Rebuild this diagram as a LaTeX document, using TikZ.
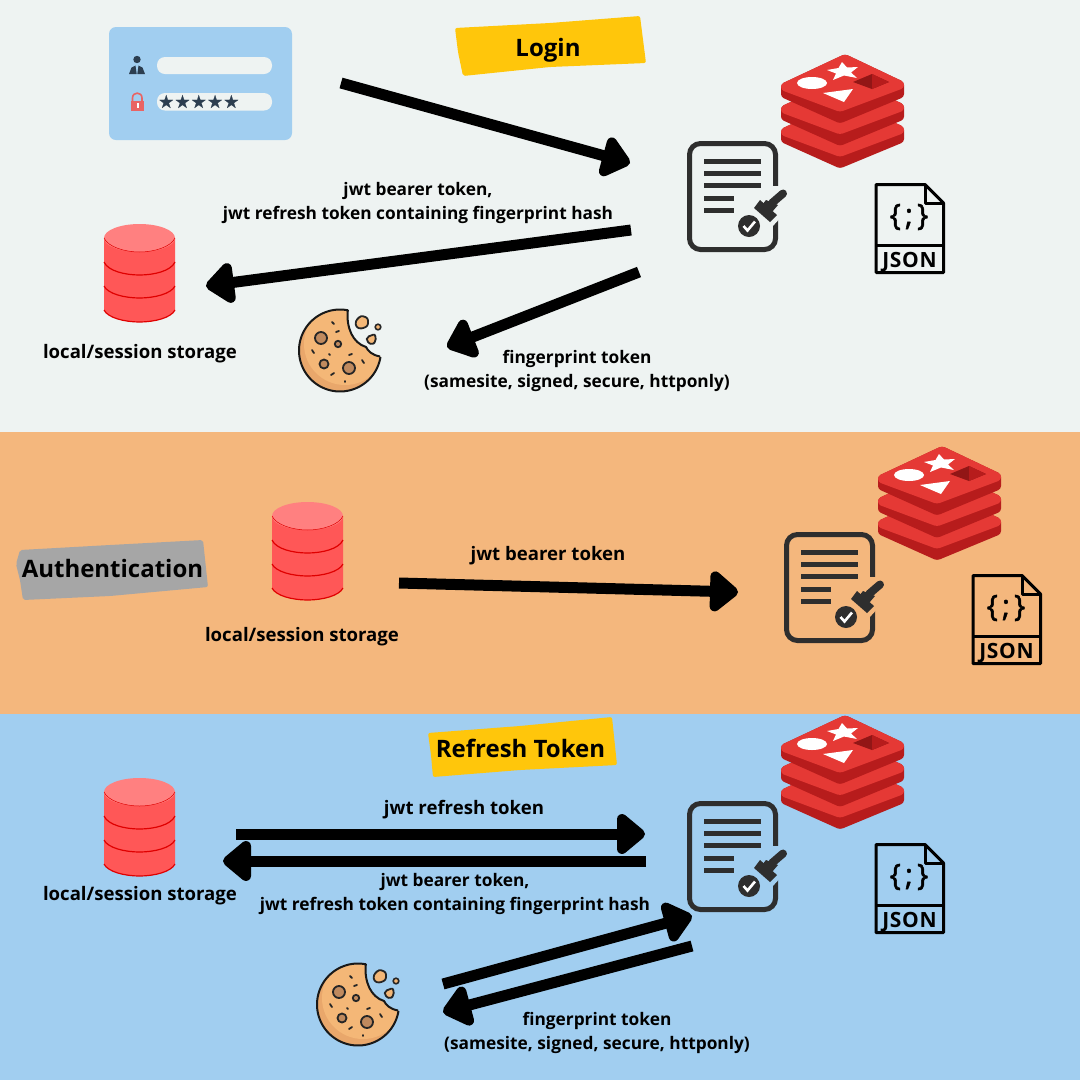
\documentclass[tikz,border=0pt]{standalone}
\usepackage{fontspec}
\setmainfont{Open Sans}
\newfontfamily\symfont[FakeBold=1]{DejaVu Sans}
\newfontfamily\jsonfont[FakeBold=1.6]{Open Sans}
\usetikzlibrary{calc}
\definecolor{bgtop}{HTML}{EEF3F2}
\definecolor{bgmid}{HTML}{F4B77D}
\definecolor{bgbot}{HTML}{A1CEF0}
\definecolor{redl}{HTML}{E53935}
\definecolor{redd}{HTML}{B71C1C}
\definecolor{dbside}{HTML}{FF5757}
\definecolor{dbtop}{HTML}{FF8080}
\definecolor{dbline}{HTML}{E00000}
\definecolor{docc}{HTML}{2E2E2E}
\definecolor{cookiel}{HTML}{F4B777}
\definecolor{cookied}{HTML}{E9A76B}
\definecolor{chip}{HTML}{C08A5E}
\definecolor{navy}{HTML}{2C3E50}
\definecolor{lockc}{HTML}{E96464}
\definecolor{yellowb}{HTML}{FFC60B}
\definecolor{grayb}{HTML}{A6A6A6}
\tikzset{
  shaft/.style={line width=11pt},
  arrowhead/.style={line width=10pt,line join=round,fill=black,draw=black},
  lbl/.style={font=\fontsize{17.3}{24}\selectfont\bfseries,align=center,inner sep=0pt,text=black},
  lblb/.style={font=\fontsize{18.6}{24}\selectfont\bfseries,align=center,inner sep=0pt,text=black},
  ttl/.style={font=\fontsize{24}{28}\selectfont\bfseries,inner sep=0pt,text=black},
  pics/redislayer/.style={code={
    \fill[redd,rounded corners=3pt] (781,84)--(845,54)--(904,82)--(904,97)--(840,123.5)--(781,97)--cycle;
    \fill[redl,rounded corners=3pt] (781,84)--(845,54)--(904,82)--(904,88)--(840,112)--(781,90)--cycle;
  }},
  pics/redisicon/.style={code={
    \pic at (0,45) {redislayer};
    \pic at (0,22.5) {redislayer};
    \pic at (0,0) {redislayer};
    \fill[white] (812,83) ellipse [x radius=15,y radius=6];
    \fill[white] (842,62)--(847,67.5)--(858,67)--(851,72.5)--(857,78)--(844,75.5)--(833,80)--(836,73.5)--(827,70)--(838.5,68)--cycle;
    \fill[white] (823,93)--(853,89)--(844,102)--cycle;
    \fill[redd!80!black] (853,82)--(872,74)--(889,82)--(872,89)--cycle;
    \fill[redd] (872,74)--(889,82)--(872,89)--cycle;
  }},
  pics/dbicon/.style={code={
    \fill[dbside] (104,238)--(104,310) .. controls (108,318) and (125,322) .. (139.5,322) .. controls (154,322) and (171,318) .. (175,310)--(175,238)--cycle;
    \draw[dbline,line width=1.2pt] (104,310) .. controls (108,318) and (125,322) .. (139.5,322) .. controls (154,322) and (171,318) .. (175,310);
    \draw[dbline,line width=1.2pt] (104,262) .. controls (108,271) and (125,275) .. (139.5,275) .. controls (154,275) and (171,271) .. (175,262);
    \draw[dbline,line width=1.2pt] (104,286) .. controls (108,294) and (125,298) .. (139.5,298) .. controls (154,298) and (171,294) .. (175,286);
    \fill[dbtop] (139.5,238) ellipse [x radius=35.5,y radius=14];
    \draw[dbline,line width=.5pt] (104,238) .. controls (108,247) and (125,252) .. (139.5,252) .. controls (154,252) and (171,247) .. (175,238);
  }},
  pics/cookieicon/.style={code={
    \def\cookiepath{plot[domain=-351:-79,samples=70] ({340+41*cos(\x)},{350.5+41*sin(\x)}) .. controls (346,328) and (353,343) .. (366,347) .. controls (368,351) and (372,355) .. (380,356.5)}
    \fill[cookied] \cookiepath -- cycle;
    \begin{scope}
      \clip \cookiepath -- cycle;
      \fill[cookiel] (345,344) circle [radius=41];
    \end{scope}
    \draw[black!90,line width=2pt,line join=round] \cookiepath;
    \foreach \cx/\cy/\cr in {321/338/6,338/344/3.2,324/364/4.5,349/368/6}{
      \fill[chip] (\cx,\cy) circle [radius=\cr];
      \draw[black!85,line width=1.8pt] (\cx,\cy) circle [radius=\cr];
    }
    \draw[black!85,line width=1.8pt,line cap=round]
      (332,322)--(334,324) (336,332)--(339,331) (312,350)--(314,353) (329,354)--(330,355)
      (349,355)--(352,354) (362,360)--(364,363) (331,375)--(334,373) (345,381)--(345,382);
    \fill[cookiel,draw=black!85,line width=1.8pt,rounded corners=2.5pt] (355.5,321)--(361,315.5)--(368,318)--(368,326)--(361,329)--(356,327)--cycle;
    \fill[cookiel,draw=black!85,line width=1.6pt] (378,327) circle [radius=2.8];
    \fill[cookiel,draw=black!85,line width=1.8pt,rounded corners=2pt] (367,337)--(375,334)--(376,341)--(372,345)--(366.5,341)--cycle;
  }},
  pics/docicon/.style={code={
    \draw[docc,line width=5pt,rounded corners=11pt] (689.5,143.5) rectangle (775.5,249.5);
    \draw[docc,line width=5pt] (704,161)--(761,161) (704,173)--(761,173) (704,185)--(761,185) (704,198)--(734,198) (704,210)--(734,210);
    \draw[#1,line width=9pt] (777,186)--(777,218);
    \fill[#1] (750,207)--(760,195)--(783,215)--(772,227)--cycle;
    \fill[docc] (754,208)--(760,200)--(777,215)--(770,222)--cycle;
    \draw[docc,line width=8pt,line cap=round] (783,193.5)--(772,203);
    \fill[docc] (766,200)--(778,205)--(772,212)--(762,205)--cycle;
    \fill[docc] (749,226) circle [radius=11];
    \draw[white,line width=2.6pt] (743.5,226)--(747.5,230.5)--(755,221.5);
  }},
  pics/jsonicon/.style={code={
    \draw[black,line width=3pt,line join=round] (876,184.5)--(925,184.5)--(943.5,203)--(943.5,272.5)--(876,272.5)--cycle;
    \draw[black,line width=3pt,line join=round] (925,184.5)--(925,203)--(943.5,203);
    \draw[black,line width=3pt] (876,245)--(943.5,245);
    \node[inner sep=0pt,font=\fontsize{21}{22}\selectfont\bfseries] at (909.5,262) {\addfontfeature{LetterSpace=3}JSON};
    \node[inner sep=0pt,font=\jsonfont\fontsize{30}{31}\selectfont] at (909,217) {\{\kern4pt;\kern4pt\}};
  }},
}
\begin{document}
\begin{tikzpicture}[x=1pt,y=-1pt]
\useasboundingbox (0,0) rectangle (1080,1080);
\fill[bgtop] (0,0) rectangle (1080,432);
\fill[bgmid] (0,432) rectangle (1080,714);
\fill[bgbot] (0,714) rectangle (1080,1080);

% login panel
\fill[bgbot,rounded corners=7pt] (109,27) rectangle (292,140);
\fill[bgtop,rounded corners=8pt] (157,57) rectangle (272,74);
\fill[bgtop,rounded corners=8pt] (157,93) rectangle (272,110.5);
\fill[navy] (137,59.5) circle [radius=3.7];
\fill[navy] (129,74)--(131.5,67.5)--(135.5,65.5)--(136.7,74)--cycle (145,74)--(142.5,67.5)--(138.5,65.5)--(137.3,74)--cycle;
\draw[lockc,line width=1.6pt] (132.5,102)--(132.5,98) .. controls (132.5,91.5) and (142,91.5) .. (142,98)--(142,102);
\fill[lockc] (131,100.5) rectangle (144,110.5);
\fill[white] (136.5,103) rectangle (138.5,108);
\node[inner sep=0pt,font=\symfont\fontsize{17.5}{18}\selectfont,text=navy] (stars) at (198.8,101.5) {★\kern.6pt★\kern.6pt★\kern.6pt★\kern.6pt★};

% titles
\fill[yellowb,rounded corners=2pt] (455,28)--(550,23)--(640,16)--(646,63)--(550,67)--(463,76)--(458,52)--cycle;
\node[ttl] (login) at (548,50.5) {Login};
\fill[grayb,rounded corners=2pt] (20,550)--(110,545)--(203,540)--(208,587)--(110,596)--(23,600)--(20,580)--(16,564)--cycle;
\node[ttl] (auth) at (112.5,568) {Authentication};
\fill[yellowb,rounded corners=2pt] (428,733)--(520,726)--(612,717)--(617,765)--(520,770)--(433,777)--(431,755)--cycle;
\node[ttl] (refresh) at (520.5,748) {Refresh Token};

% icons
\pic at (0,0) {redisicon};
\pic at (97,392) {redisicon};
\pic at (0,661) {redisicon};
\pic at (0,0) {docicon=bgtop};
\pic at (97,391) {docicon=bgmid};
\pic at (0,660) {docicon=bgbot};
\pic at (0,0) {jsonicon};
\pic at (97,391) {jsonicon};
\pic at (0,660) {jsonicon};
\pic at (0,0) {dbicon};
\pic at (168,278) {dbicon};
\pic at (0,554) {dbicon};
\pic at (0,0) {cookieicon};
\pic at (18,654) {cookieicon};

% labels
\node[lbl] (l1) at (418,203) {jwt bearer token,\\jwt refresh token containing fingerprint hash};
\node[lblb] (l2) at (140,354) {local/session storage};
\node[lbl] (l3) at (577,371) {fingerprint token\\(samesite, signed, secure, httponly)};
\node[lblb] (l4) at (302,637) {local/session storage};
\node[lblb] (l5) at (548,556) {jwt bearer token};
\node[lblb] (l6) at (140,896) {local/session storage};
\node[lblb] (l7) at (464,810) {jwt refresh token};
\node[lbl] (l8) at (455,894) {jwt bearer token,\\jwt refresh token containing fingerprint hash};
\node[lbl] (l9) at (597,1033) {fingerprint token\\(samesite, signed, secure, httponly)};

% connector ends
\coordinate (a1s) at (341,83);  \coordinate (a1e) at (630,163);
\coordinate (a2s) at (631,230); \coordinate (a2e) at (206,286);
\coordinate (a3s) at (639,272); \coordinate (a3e) at (447,347);
\coordinate (a4s) at (399,583); \coordinate (a4e) at (738,592);
\coordinate (a5s) at (236,834); \coordinate (a5e) at (645,834);
\coordinate (a6s) at (646,861); \coordinate (a6e) at (223,861);
\coordinate (a7s) at (443,984); \coordinate (a7e) at (692,916);
\coordinate (a8s) at (692,946); \coordinate (a8e) at (443,1012);
\foreach \n in {1,...,8}{
  \coordinate (t) at ($(a\n e)!5pt!(a\n s)$);
  \coordinate (b) at ($(a\n e)!23pt!(a\n s)$);
  \draw[shaft] (a\n s) -- (b);
  \draw[arrowhead] (t) -- ($(b)!15pt!90:(t)$) -- ($(b)!15pt!-90:(t)$) -- cycle;
}
\end{tikzpicture}
\end{document}
